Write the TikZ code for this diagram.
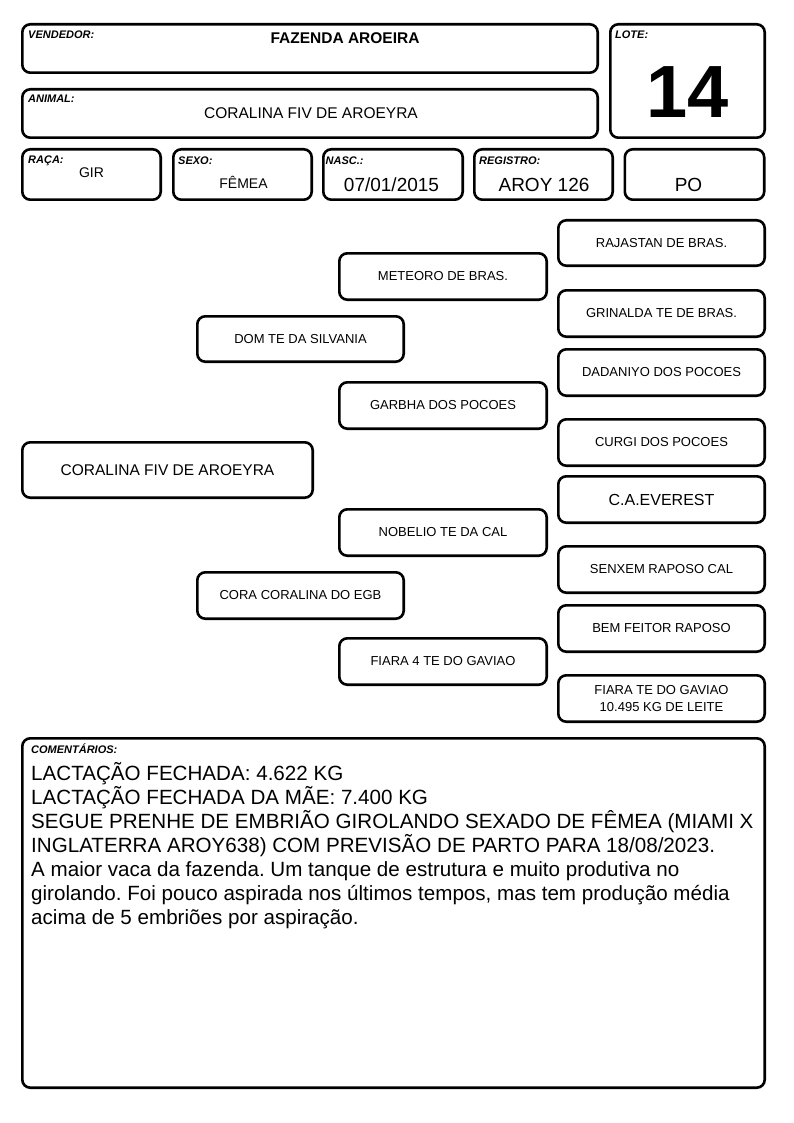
\documentclass[tikz,border=0pt]{standalone}
\usepackage{fontspec}
\setmainfont{Liberation Sans}
\frenchspacing
\begin{document}
\begin{tikzpicture}[x=1pt,y=-1pt,
  box/.style={draw=black,line width=2.6pt,rounded corners=8pt,inner sep=0pt,fill=white},
  lbl/.style={anchor=base west,inner sep=0pt,font=\fontsize{11}{13}\selectfont\bfseries\itshape},
  val/.style={anchor=base,inner sep=0pt},
  ped/.style={box,minimum width=207.4pt,minimum height=46.4pt,font=\fontsize{13}{15.6}\selectfont,align=center},
  cline/.style={anchor=base west,inner sep=0pt,font=\fontsize{20.6}{24}\selectfont}]
\useasboundingbox[fill=white] (0,0) rectangle (794,1123);
% header boxes
\node[box,minimum width=575.4pt,minimum height=48.4pt] (vend) at (310,48.5) {};
\node[box,minimum width=154.4pt,minimum height=113.4pt] (lote) at (687.5,81) {};
\node[box,minimum width=575.4pt,minimum height=48.4pt] (animal) at (310,113.5) {};
\node[box,minimum width=138.4pt,minimum height=50.4pt] (raca) at (91.5,174.5) {};
\node[box,minimum width=138.4pt,minimum height=50.4pt] (sexo) at (242.5,174.5) {};
\node[box,minimum width=139.4pt,minimum height=50.4pt] (nasc) at (393,174.5) {};
\node[box,minimum width=138.4pt,minimum height=50.4pt] (reg) at (543.5,174.5) {};
\node[box,minimum width=139.4pt,minimum height=50.4pt] (po) at (694.5,174.5) {};
% labels
\node[lbl] (lvend) at (28,39) {VENDEDOR:};
\node[lbl] (llote) at (615,39) {LOTE:};
\node[lbl] (lanimal) at (28,103) {ANIMAL:};
\node[lbl] (lraca) at (28,163.5) {RAÇA:};
\node[lbl] (lsexo) at (178,164.5) {SEXO:};
\node[lbl] (lnasc) at (325.5,164.5) {NASC.:};
\node[lbl] (lreg) at (479,164.5) {REGISTRO:};
% values
\node[val,font=\fontsize{15.5}{18}\selectfont\bfseries] (tvend) at (345,43.5) {FAZENDA AROEIRA};
\node[val,font=\fontsize{74}{80}\selectfont\bfseries] (tlote) at (688,118) {14};
\node[val,font=\fontsize{15.5}{18}\selectfont] (tanimal) at (311,119) {CORALINA FIV DE AROEYRA};
\node[val,font=\fontsize{14}{16}\selectfont] (traca) at (91.5,178) {GIR};
\node[val,font=\fontsize{14}{16}\selectfont] (tsexo) at (243.5,189) {FÊMEA};
\node[val,font=\fontsize{19}{22}\selectfont] (tnasc) at (391.5,192) {07/01/2015};
\node[val,font=\fontsize{19}{22}\selectfont] (treg) at (544,192) {AROY 126};
\node[val,font=\fontsize{19}{22}\selectfont] (tpo) at (688.5,192) {PO};
% pedigree
\node[box,minimum width=290.4pt,minimum height=55.4pt,font=\fontsize{15.5}{18}\selectfont] (cor) at (167.5,470) {CORALINA FIV DE AROEYRA};
\node[ped,minimum width=206.4pt,minimum height=45.4pt] (dom) at (300.5,339) {DOM TE DA SILVANIA};
\node[ped,minimum width=206.4pt] (cora) at (300.5,595.5) {CORA CORALINA DO EGB};
\node[ped] (met) at (443,276.5) {METEORO DE BRAS.};
\node[ped] (gar) at (443,405.5) {GARBHA DOS POCOES};
\node[ped] (nob) at (443,532.5) {NOBELIO TE DA CAL};
\node[ped] (fia4) at (443,661.5) {FIARA 4 TE DO GAVIAO};
\node[ped,minimum width=206.4pt,minimum height=45.4pt] (raj) at (661.5,243) {RAJASTAN DE BRAS.};
\node[ped,minimum width=206.4pt] (gri) at (661.5,313.5) {GRINALDA TE DE BRAS.};
\node[ped,minimum width=206.4pt] (dad) at (661.5,372.5) {DADANIYO DOS POCOES};
\node[ped,minimum width=206.4pt] (cur) at (661.5,442.5) {CURGI DOS POCOES};
\node[ped,minimum width=206.4pt,font=\fontsize{16}{19}\selectfont] (eve) at (661.5,499.5) {C.A.EVEREST};
\node[ped,minimum width=206.4pt] (sen) at (661.5,569.5) {SENXEM RAPOSO CAL};
\node[ped,minimum width=206.4pt] (bem) at (661.5,628.5) {BEM FEITOR RAPOSO};
\node[ped,minimum width=206.4pt,font=\fontsize{13}{16.5}\selectfont] (fte) at (661.5,698.5) {FIARA TE DO GAVIAO\\10.495 KG DE LEITE};
% comments
\node[box,minimum width=742.4pt,minimum height=349.4pt] (com) at (393.5,913) {};
\node[lbl] (lcom) at (31,753) {COMENTÁRIOS:};
\node[cline] (c1) at (31,780) {LACTAÇÃO FECHADA: 4.622 KG};
\node[cline] (c2) at (31,804) {LACTAÇÃO FECHADA DA MÃE: 7.400 KG};
\node[cline] (c3) at (31,828) {SEGUE PRENHE DE EMBRIÃO GIROLANDO SEXADO DE FÊMEA (MIAMI X};
\node[cline] (c4) at (31,852) {INGLATERRA AROY638) COM PREVISÃO DE PARTO PARA 18/08/2023.};
\node[cline] (c5) at (31,876) {A maior vaca da fazenda. Um tanque de estrutura e muito produtiva no};
\node[cline] (c6) at (31,900) {girolando. Foi pouco aspirada nos últimos tempos, mas tem produção média};
\node[cline] (c7) at (31,924) {acima de 5 embriões por aspiração.};
\end{tikzpicture}
\end{document}
